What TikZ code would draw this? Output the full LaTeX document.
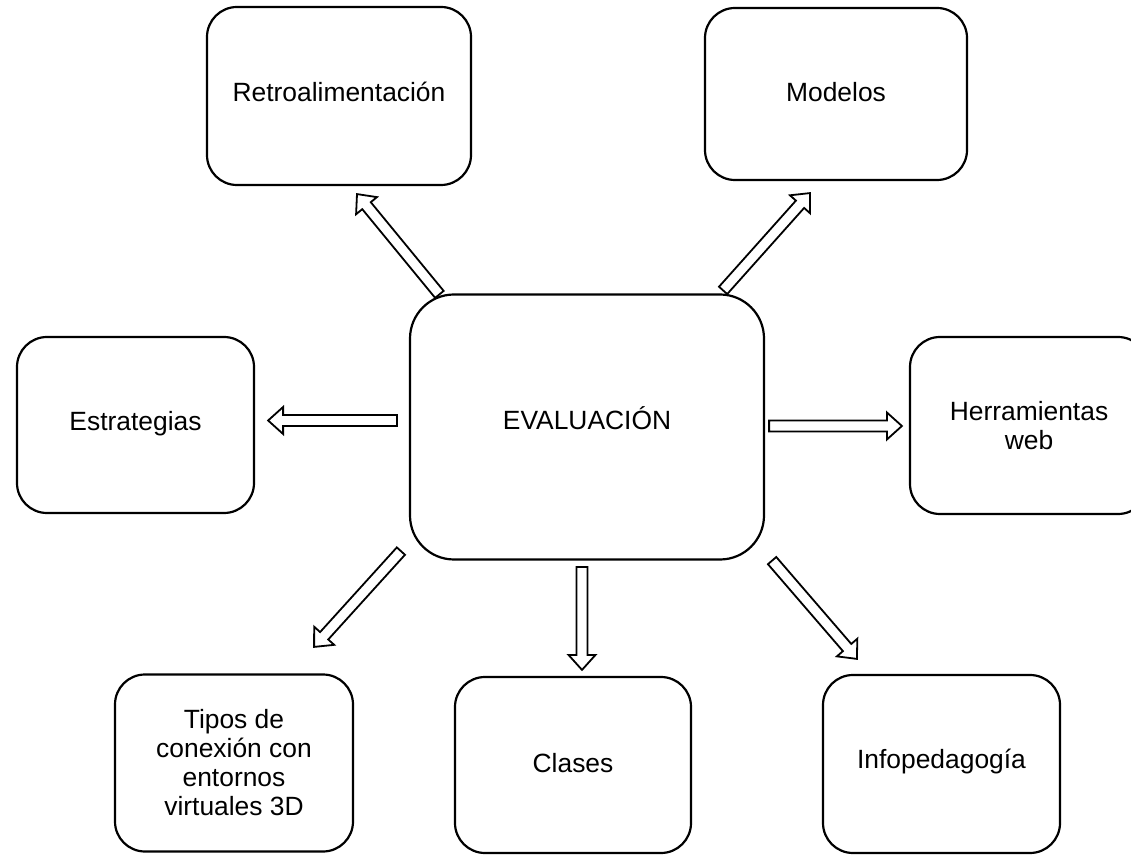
\documentclass[tikz,border=0pt]{standalone}
\usepackage{fontspec}
\setmainfont{Liberation Sans}
\usetikzlibrary{calc}

\begin{document}
\begin{tikzpicture}[
  x=1pt, y=1pt,
  box/.style={draw, rounded corners=30pt, line width=2.2pt, inner sep=0pt,
    minimum width=237pt, minimum height=177pt, align=center,
    font=\fontsize{26.4}{29}\selectfont},
  hub/.style={box, rounded corners=44pt, minimum width=354pt,
    minimum height=265pt},
  barrow/.style={line width=1.8pt, line join=miter, to path={
    ($(\tikztostart)!5.5pt!90:(\tikztotarget)$)
    -- ($(\tikztotarget)!15pt!(\tikztostart)!5.5pt!90:(\tikztotarget)$)
    -- ($(\tikztotarget)!15pt!(\tikztostart)!13.5pt!90:(\tikztotarget)$)
    -- (\tikztotarget)
    -- ($(\tikztotarget)!15pt!(\tikztostart)!13.5pt!-90:(\tikztotarget)$)
    -- ($(\tikztotarget)!15pt!(\tikztostart)!5.5pt!-90:(\tikztotarget)$)
    -- ($(\tikztostart)!5.5pt!-90:(\tikztotarget)$) -- cycle}},
]
\useasboundingbox (0,0) rectangle (1131,854);

% Centre
\node[hub, text depth=18pt] (eval) at (587,427) {EVALUACIÓN};

% Surrounding blocks
\node[box, minimum width=264pt, minimum height=178pt, text depth=8pt]
  (retro) at (339,758) {Retroalimentación};
\node[box, minimum width=262pt, minimum height=172pt, text depth=4pt]
  (modelos) at (836,760) {Modelos};
\node[box, minimum height=176pt, text depth=9pt] (estrat) at (135.5,429)
  {Estrategias};
\node[box, minimum width=238pt] (herram) at (1029,428.5) {Herramientas\\web};
\node[box, minimum width=238pt] (tipos) at (234,91)
  {Tipos de\\conexión con\\entornos\\virtuales 3D};
\node[box, minimum width=236pt, minimum height=176pt, text depth=4pt]
  (clases) at (573,89) {Clases};
\node[box, minimum height=178pt, text depth=11pt] (infoped) at (941.5,90)
  {Infopedagogía};

% Block arrows
\draw[barrow] ($(eval.north west)+(30.5,-1)$) to ($(retro.south)+(18,-8)$);
\draw[barrow] ($(eval.north east)+(-42,3)$) to ($(modelos.south)+(-26,-12)$);
\draw[barrow] ($(eval.west)+(-12,6.5)$) to ($(estrat.east)+(13,4.5)$);
\draw[barrow] ($(eval.east)+(4,1)$) to ($(herram.west)+(-7,-0.5)$);
\draw[barrow] ($(eval.south west)+(-8,9.5)$) to ($(tipos.north east)+(-40,26.5)$);
\draw[barrow] ($(eval.south)+(-5,-6.5)$) to ($(clases.north)+(9,6)$);
\draw[barrow] ($(eval.south east)+(7,0)$) to ($(infoped.north west)+(35,15)$);
\end{tikzpicture}
\end{document}
